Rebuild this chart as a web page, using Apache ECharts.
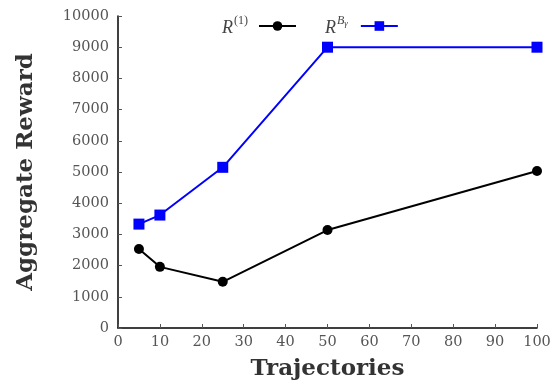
<!DOCTYPE html>
<html>
<head>
<meta charset="utf-8">
<script src="https://cdn.jsdelivr.net/npm/echarts@6/dist/echarts.min.js"></script>
<style>
  html, body { margin: 0; padding: 0; background: #fff; }
  #chart { width: 559px; height: 386px; }
</style>
</head>
<body>
<div id="chart"></div>
<script>
const trajectories = [5, 10, 25, 50, 100]
const rewardR1 = [2530, 1960, 1480, 3140, 5030]
const rewardRB = [3330, 3620, 5150, 9000, 9000]
const xTicks = { min: 0, max: 100, interval: 10 }
const yTicks = { min: 0, max: 10000, interval: 1000 }

const font = 'DejaVu Serif'
const legendLabels = {
    R1: '{r|R}{s|(1)}',
    RB: '{r|R}{b|B}{ss|γ}'
}

const chartDom = document.getElementById('chart')
const myChart = echarts.init(chartDom)
const option = {
    animation: false,
    textStyle: { fontFamily: font },
    grid: { left: 118, right: 22, top: 16, bottom: 58, outerBoundsMode: 'none' },
    legend: {
        top: 10,
        left: 217,
        align: 'right',
        itemGap: 28,
        itemWidth: 37,
        itemHeight: 12,
        formatter: name => legendLabels[name],
        textStyle: {
            fontFamily: font,
            color: '#444',
            rich: {
                r: { fontSize: 18, fontStyle: 'italic', fontFamily: 'Liberation Serif', color: '#444', padding: [4, 0, 0, 0] },
                s: { fontSize: 12, fontFamily: 'Liberation Serif', color: '#444', verticalAlign: 'top', padding: [0, 6, 0, 1] },
                b: { fontSize: 12, fontStyle: 'italic', fontFamily: 'Liberation Serif', color: '#444', verticalAlign: 'top', padding: [0, 0, 0, 1] },
                ss: { fontSize: 9, fontStyle: 'italic', fontFamily: 'Liberation Serif', color: '#444', verticalAlign: 'top', padding: [4, 8, 0, 0] }
            }
        },
        data: ['R1', 'RB']
    },
    xAxis: {
        type: 'value',
        min: xTicks.min,
        max: xTicks.max,
        interval: xTicks.interval,
        name: 'Trajectories',
        nameLocation: 'middle',
        nameGap: 30,
        nameTextStyle: { fontFamily: font, fontSize: 23, fontWeight: 'bold', color: '#333' },
        axisLine: { lineStyle: { color: '#000', width: 1.5 } },
        axisTick: { inside: true, length: 4, lineStyle: { color: '#555' } },
        axisLabel: { fontFamily: font, fontSize: 14.5, color: '#555', margin: 7, formatter: v => String(v) },
        splitLine: { show: false }
    },
    yAxis: {
        type: 'value',
        min: yTicks.min,
        max: yTicks.max,
        interval: yTicks.interval,
        name: 'Aggregate Reward',
        nameLocation: 'middle',
        nameGap: 80,
        nameTextStyle: { fontFamily: font, fontSize: 23, fontWeight: 'bold', color: '#333' },
        axisLine: { show: true, lineStyle: { color: '#000', width: 1.5 } },
        axisTick: { show: true, inside: true, length: 4, lineStyle: { color: '#555' } },
        axisLabel: { fontFamily: font, fontSize: 14.5, color: '#555', margin: 9, formatter: v => String(v) },
        splitLine: { show: false }
    },
    series: [
        {
            name: 'R1',
            type: 'line',
            data: trajectories.map((x, i) => [x, rewardR1[i]]),
            symbol: 'circle',
            symbolSize: 10,
            lineStyle: { color: '#000', width: 2 },
            itemStyle: { color: '#000' }
        },
        {
            name: 'RB',
            type: 'line',
            data: trajectories.map((x, i) => [x, rewardRB[i]]),
            symbol: 'rect',
            symbolSize: 11,
            lineStyle: { color: '#0000ff', width: 2 },
            itemStyle: { color: '#0000ff' }
        }
    ]
}
myChart.setOption(option)
</script>
</body>
</html>
